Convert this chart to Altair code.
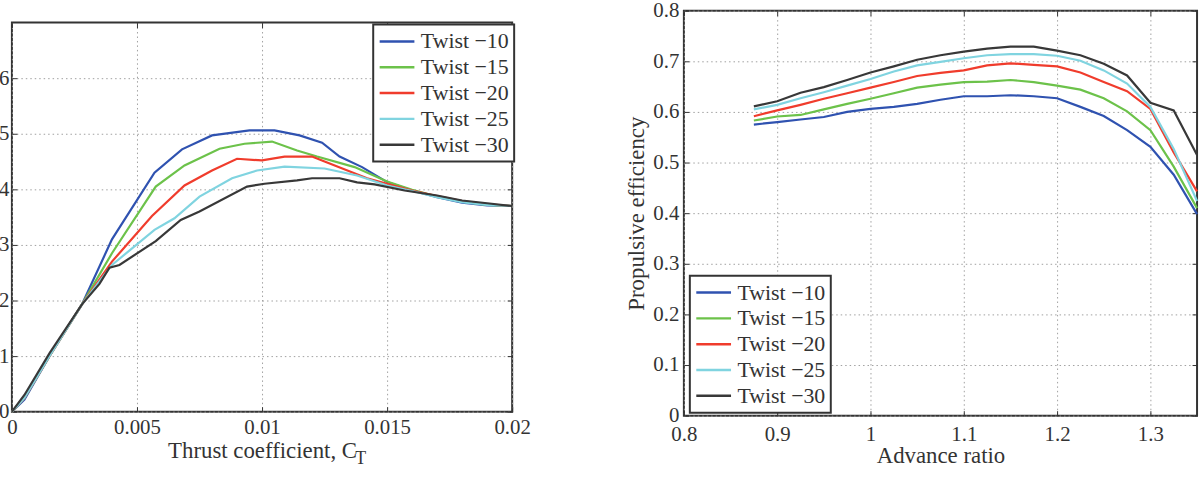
import altair as alt
import pandas as pd

FONT = "Liberation Serif"
TXT = "#333333"

series = ["Twist −10", "Twist −15", "Twist −20", "Twist −25", "Twist −30"]
colors = ["#2f52b0", "#6cc24a", "#f03c2c", "#80d4e0", "#383838"]

# ---- left panel: efficiency vs thrust coefficient ----
ct_10 = [0, 0.0005, 0.0015, 0.0028, 0.004, 0.0057, 0.0068, 0.008, 0.0095, 0.0105, 0.0115, 0.0124, 0.0131, 0.014, 0.015, 0.016, 0.017, 0.018, 0.019, 0.02]
ef_10 = [0, 0.022, 0.10, 0.193, 0.31, 0.43, 0.472, 0.497, 0.506, 0.506, 0.497, 0.484, 0.459, 0.44, 0.413, 0.398, 0.386, 0.376, 0.371, 0.37]
ct_15 = [0, 0.0005, 0.0015, 0.0028, 0.004, 0.00575, 0.0069, 0.0083, 0.0093, 0.0104, 0.0114, 0.0122, 0.0137, 0.015, 0.016, 0.017, 0.018, 0.019, 0.02]
ef_15 = [0, 0.025, 0.10, 0.193, 0.285, 0.405, 0.443, 0.473, 0.482, 0.486, 0.47, 0.459, 0.44, 0.414, 0.399, 0.387, 0.378, 0.372, 0.37]
ct_20 = [0, 0.0005, 0.0015, 0.0028, 0.004, 0.0056, 0.0069, 0.008, 0.009, 0.01, 0.0109, 0.012, 0.0125, 0.0142, 0.015, 0.016, 0.017, 0.018, 0.019, 0.02]
ef_20 = [0, 0.025, 0.10, 0.193, 0.27, 0.352, 0.407, 0.434, 0.455, 0.452, 0.459, 0.459, 0.45, 0.42, 0.41, 0.398, 0.388, 0.379, 0.373, 0.37]
ct_25 = [0, 0.0005, 0.0015, 0.0028, 0.004, 0.0057, 0.0065, 0.0075, 0.0088, 0.0098, 0.0109, 0.0125, 0.0138, 0.015, 0.016, 0.017, 0.018, 0.019, 0.02]
ef_25 = [0, 0.025, 0.10, 0.193, 0.264, 0.327, 0.348, 0.387, 0.42, 0.434, 0.441, 0.4375, 0.425, 0.407, 0.397, 0.386, 0.377, 0.372, 0.37]
ct_30 = [0, 0.0005, 0.0015, 0.0028, 0.0035, 0.0039, 0.0043, 0.00575, 0.00675, 0.0075, 0.0094, 0.0101, 0.0114, 0.012, 0.0131, 0.0138, 0.0145, 0.0157, 0.017, 0.018, 0.019, 0.02]
ef_30 = [0, 0.03, 0.105, 0.193, 0.23, 0.259, 0.264, 0.307, 0.345, 0.36, 0.405, 0.41, 0.416, 0.42, 0.42, 0.4125, 0.409, 0.398, 0.389, 0.38, 0.375, 0.37]

left_x_ticks = [0, 0.005, 0.01, 0.015, 0.02]
left_y_ticks = [0, 0.1, 0.2, 0.3, 0.4, 0.5, 0.6]

# ---- right panel: efficiency vs advance ratio ----
adv = [0.875, 0.9, 0.925, 0.95, 0.975, 1.0, 1.025, 1.05, 1.075, 1.1, 1.125, 1.15, 1.175, 1.2, 1.225, 1.25, 1.275, 1.3, 1.325, 1.35]
pe_10 = [0.575, 0.580, 0.585, 0.590, 0.600, 0.606, 0.610, 0.616, 0.624, 0.631, 0.631, 0.633, 0.631, 0.627, 0.610, 0.592, 0.564, 0.531, 0.476, 0.398]
pe_15 = [0.583, 0.591, 0.594, 0.605, 0.616, 0.626, 0.637, 0.648, 0.654, 0.659, 0.660, 0.663, 0.659, 0.652, 0.644, 0.627, 0.601, 0.564, 0.492, 0.410]
pe_20 = [0.5915, 0.603, 0.614, 0.626, 0.637, 0.648, 0.659, 0.671, 0.677, 0.682, 0.692, 0.696, 0.693, 0.690, 0.678, 0.659, 0.641, 0.606, 0.520, 0.443]
pe_25 = [0.605, 0.614, 0.627, 0.639, 0.652, 0.665, 0.680, 0.692, 0.699, 0.706, 0.712, 0.714, 0.714, 0.711, 0.701, 0.682, 0.656, 0.610, 0.527, 0.424]
pe_30 = [0.611, 0.621, 0.638, 0.649, 0.663, 0.678, 0.690, 0.703, 0.712, 0.719, 0.725, 0.729, 0.729, 0.721, 0.712, 0.695, 0.672, 0.618, 0.603, 0.515]

right_x_ticks = [0.8, 0.9, 1.0, 1.1, 1.2, 1.3]
right_y_ticks = [0, 0.1, 0.2, 0.3, 0.4, 0.5, 0.6, 0.7, 0.8]

rows = []
for s, xs, ys in zip(series, [ct_10, ct_15, ct_20, ct_25, ct_30], [ef_10, ef_15, ef_20, ef_25, ef_30]):
    for i, (a, b) in enumerate(zip(xs, ys)):
        rows.append({"series": s, "x": a, "y": b, "i": i})
left_df = pd.DataFrame(rows)

rows = []
for s, ys in zip(series, [pe_10, pe_15, pe_20, pe_25, pe_30]):
    for i, (a, b) in enumerate(zip(adv, ys)):
        rows.append({"series": s, "x": a, "y": b, "i": i})
right_df = pd.DataFrame(rows)

color_scale = alt.Scale(domain=series, range=colors)


def legend(lx, ly):
    return alt.Legend(title=None, orient="none", legendX=lx, legendY=ly,
                      symbolType="stroke", symbolSize=1225, symbolStrokeWidth=2.5,
                      labelFontSize=22, labelFont=FONT, labelColor=TXT, labelOffset=5,
                      strokeColor="#333333", fillColor="white", padding=5,
                      clipHeight=24, rowPadding=2)


def main_axis(orient, values, lp, title=None, tp=0):
    kw = dict(orient=orient, values=values, format="~g", labelFont=FONT, labelFontSize=21,
              labelColor=TXT, labelPadding=lp, ticks=True, tickSize=5, offset=-5,
              tickColor=TXT, domain=False, grid=True, gridColor="#a0a0a0",
              gridDash=[1.5, 3], gridWidth=1, labelFlush=False, labelOverlap=False)
    if title is None:
        kw["title"] = None
    else:
        kw.update(title=title, titleFont=FONT, titleFontSize=23, titleFontWeight="normal",
                  titleColor=TXT, titlePadding=tp)
    return alt.Axis(**kw)


def mirror_axis(orient, values):
    return alt.Axis(orient=orient, values=values, labels=False, grid=False, domain=False,
                    ticks=True, tickSize=5, offset=-5, tickColor=TXT, title=None)


def panel(df, xdom, ydom, xt, yt, xlp, ylp, xtitle, ytitle, xtp, ytp, lx, ly):
    xs = alt.Scale(domain=xdom, nice=False, zero=False)
    ys = alt.Scale(domain=ydom, nice=False, zero=False)
    lines = alt.Chart(df).mark_line(strokeWidth=2.2).encode(
        x=alt.X("x:Q", scale=xs, axis=main_axis("bottom", xt, xlp, xtitle, xtp)),
        y=alt.Y("y:Q", scale=ys, axis=main_axis("left", yt, ylp, ytitle, ytp)),
        color=alt.Color("series:N", scale=color_scale, legend=legend(lx, ly)),
        order="i:Q",
    )
    mirror = alt.Chart(df).mark_line(opacity=0).encode(
        x=alt.X("x:Q", scale=xs, axis=mirror_axis("top", xt)),
        y=alt.Y("y:Q", scale=ys, axis=mirror_axis("right", yt)),
        detail="series:N",
    )
    return lines, mirror


l_lines, l_mirror = panel(left_df, [0, 0.02], [0, 0.7], left_x_ticks, left_y_ticks,
                          5, 3, "Thrust coefficient, C", None, 2, 0, 364, 14)
sub_t = alt.Chart(pd.DataFrame({"t": ["T"]})).mark_text(
    font=FONT, fontSize=18, color=TXT, align="left", baseline="middle").encode(
    x=alt.value(346), y=alt.value(440), text="t:N")
left = alt.layer(l_lines, l_mirror, sub_t).resolve_axis(
    x="independent", y="independent").properties(width=504, height=392)

spacer = alt.Chart(pd.DataFrame({"t": [0]})).mark_rule(opacity=0).encode(
    x=alt.value(0), y=alt.value(0), y2=alt.value(1)).properties(
    width=1, height=1, view=alt.ViewBackground(stroke="transparent", strokeWidth=0))
left_col = alt.vconcat(spacer, left, spacing=9)

r_lines, r_mirror = panel(right_df, [0.8, 1.35], [0, 0.8], right_x_ticks, right_y_ticks,
                          8, 5, "Advance ratio", "Propulsive efficiency", 0, 4, 6, 267)
right = alt.layer(r_lines, r_mirror).resolve_axis(
    x="independent", y="independent").properties(width=517, height=408)

chart = alt.hconcat(left_col, right, spacing=93).resolve_legend(
    color="independent").properties(
    padding={"left": -19, "top": -3, "right": 0, "bottom": 0}
).configure_view(stroke="#333333", strokeWidth=2).configure_legend(strokeWidth=2)

chart.save("out.html", embed_options={"renderer": "svg", "actions": False})
